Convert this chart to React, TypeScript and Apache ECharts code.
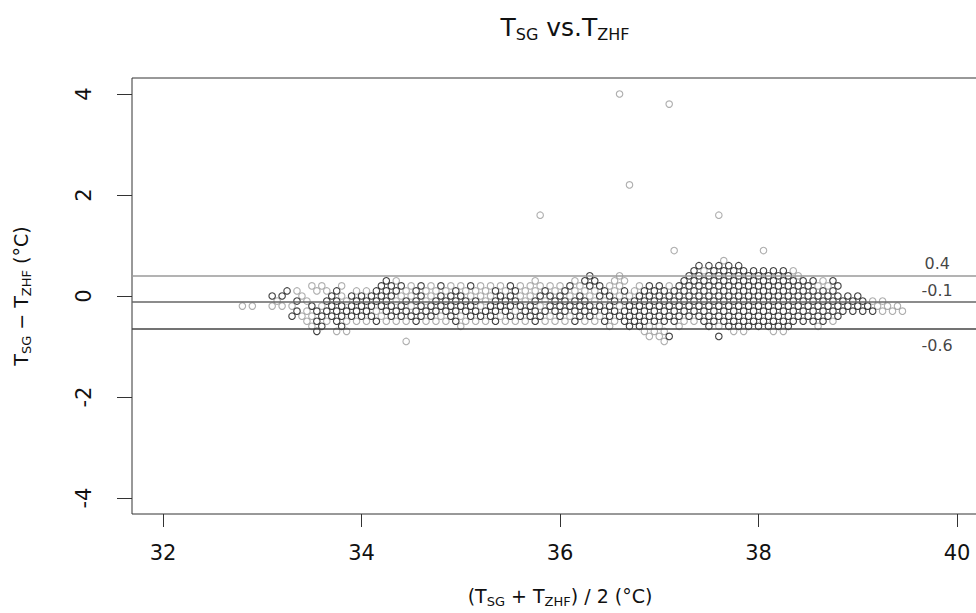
import React, { useEffect, useRef } from "react";
import * as echarts from "echarts";

// ---- data ----
const xTicks = [32, 34, 36, 38, 40];
const yTicks = [-4, -2, 0, 2, 4];

// limits of agreement: upper, mean, lower
const limitValues = [0.403, -0.121, -0.645];
const limitLabels = ["0.4", "-0.1", "-0.6"];
const limitLabelX = 39.8;

// points far from the band (all grey)
const outlierPoints: number[][] = [
  [36.6, 4.0], [37.1, 3.8], [36.7, 2.2], [37.6, 1.6], [35.8, 1.6], [37.15, 0.9], [38.05, 0.9],
];

// The cloud lies on a lattice: a difference (tenths) per row; cells run at 0.1 steps from
// 32.8 (even rows) or 32.85 (odd rows). 'k' = black circle, 'g' = grey circle, '.' = none.
const rowDiffs = [7, 6, 5, 4, 3, 2, 1, 0, -1, -2, -3, -4, -5, -6, -7, -8, -9];
const rowCells = [
  ".. .......... .......... .......... .......... ......g...",
  ".. .......... .......... .......... .......... ....kkkkk.",
  ".. .......... .......... .......... .......... ...kgkkkkk kkkg......",
  ".. .......... .......... .......... ...k..g... ...kkkkkkk kkkkg.....",
  ".. .......... ..kg...... .......g.. .gkk.gg... ..kkkkkkkk kkkkkkgk..",
  ".. .....gg.g. ..kkkgkgkg gkgggkgggg gkgkkgg.gk kgkkkkkkkk kkkkkkggk.",
  ".. ..kg.ggk.g gkkkgkgggk gggkgkggkg kgggkgkgkk kkkkkkkkkk kkkkkkkk..",
  ".. .kk.g..kgk kkkkggkgkk kgggkkggkk kgkgkkggkk kkkkkkkkkk kkkkkkkkkk k.....",
  ".. .g.kg.kkgk kkkgkkgkkk kkgkkkgkgk kkkggkkkkk kkkkkkkkkk kkkkkkkkkk kgg..",
  "gg .ggg.kgkkk kkkkkgkkkk kkgkkkkkgk kkkkkkgkkk kkkkkkkkkk kkkkkkkkkk kkggg.",
  ".. ...kgkkkkk kgkkkkkkkk kkkkkgkkkk kkkkkkkkkk kkkkkkkkkk kkkkkkkkkk kkggg",
  ".. ...kggkkkk kkgkkkkkgk gkkkgkkkkg kgkkgkkkkk kkkkkkkkkk kkkkkkkkk.",
  ".. ....gkgkgg gkgggkgggk gggkgggkgg gkggkgkkkk kkggkkkkkk kkkkkkkg..",
  ".. .....gk.k. .......... g......... .....g.kkg g.g..kgkkk kkkk..g...",
  ".. .....k.gg. .......... .......... ........gg g......gg. .gg.......",
  ".. .......... .......... .......... .........g gk....k...",
  ".. .......... ....g..... .......... .......... g.........",
];

function buildPoints() {
  const grey: number[][] = [...outlierPoints];
  const black: number[][] = [];
  rowDiffs.forEach((d, r) => {
    const cells = rowCells[r].replace(/ /g, "");
    const x0 = Math.abs(d) % 2 === 0 ? 32.8 : 32.85;
    for (let i = 0; i < cells.length; i++) {
      const c = cells[i];
      if (c === ".") continue;
      const p = [Number((x0 + i * 0.1).toFixed(2)), d / 10];
      if (c === "k") black.push(p);
      else grey.push(p);
    }
  });
  return { grey, black };
}

const FONT = "DejaVu Sans";
const TEXT = "#111";

export default function App() {
  const ref = useRef<HTMLDivElement>(null);
  useEffect(() => {
    const chart = echarts.init(ref.current!, null, { renderer: "svg" });
    const { grey, black } = buildPoints();
    const sub = (fs: number, pad: number) => ({
      fontSize: fs, fontFamily: FONT, fontWeight: "normal", color: TEXT, verticalAlign: "top", padding: [pad, 0, 0, 0],
    });
    const main = (fs: number) => ({ fontSize: fs, fontFamily: FONT, fontWeight: "normal", color: TEXT, verticalAlign: "top" });
    const option: any = {
      animation: false,
      backgroundColor: "#fff",
      title: {
        text: "{t|T}{s|SG}{t| vs.T}{s|ZHF}",
        left: 560,
        top: 10,
        textAlign: "center",
        textStyle: { fontWeight: "normal", rich: { t: main(25), s: sub(16, 11) } },
      },
      grid: {
        left: 132, top: 78, width: 856, height: 436,
        show: true, borderColor: "#333", borderWidth: 1, backgroundColor: "transparent",
        outerBoundsMode: "none", containLabel: false,
      },
      xAxis: {
        type: "value",
        min: 31.6877,
        max: 40.312,
        axisLine: { show: false, onZero: false },
        splitLine: { show: false },
        axisTick: { show: true, length: 13, customValues: xTicks, lineStyle: { color: "#333", width: 1 } },
        axisLabel: { customValues: xTicks, fontSize: 21, fontFamily: FONT, color: TEXT, margin: 28 },
        name: "{t|(T}{s|SG}{t| + T}{s|ZHF}{t|) / 2 (°C)}",
        nameLocation: "middle",
        nameGap: 72,
        nameTextStyle: { rich: { t: main(19), s: sub(13, 9) } },
      },
      yAxis: {
        type: "value",
        min: -4.317,
        max: 4.317,
        axisLine: { show: false, onZero: false },
        splitLine: { show: false },
        axisTick: { show: true, length: 15, customValues: yTicks, lineStyle: { color: "#333", width: 1 } },
        axisLabel: { customValues: yTicks, rotate: 90, fontSize: 21, fontFamily: FONT, color: TEXT, margin: 38 },
        name: "{t|T}{s|SG}{t| − T}{s|ZHF}{t| (°C)}",
        nameLocation: "middle",
        nameRotate: 90,
        nameGap: 99,
        nameTextStyle: { rich: { t: main(19), s: sub(13, 9) } },
      },
      series: [
        {
          type: "scatter",
          data: grey,
          symbol: "circle",
          symbolSize: 6.5,
          itemStyle: { color: "rgba(0,0,0,0)", borderColor: "#9a9a9a", borderWidth: 1.1 },
          z: 2,
          markLine: {
            silent: true,
            symbol: "none",
            label: { show: false },
            data: limitValues.map((v, i) => ({
              yAxis: v,
              lineStyle: { color: ["#9a9a9a", "#666", "#444"][i], width: 1.5, type: "solid" },
            })),
          },
        },
        {
          type: "scatter",
          data: black,
          symbol: "circle",
          symbolSize: 6.5,
          itemStyle: { color: "rgba(0,0,0,0)", borderColor: "#111", borderWidth: 1.1 },
          z: 3,
        },
        {
          type: "scatter",
          symbolSize: 0,
          silent: true,
          z: 4,
          data: limitValues.map((v, i) => ({
            value: [limitLabelX, v],
            label: {
              show: true,
              formatter: limitLabels[i],
              position: i === 2 ? "bottom" : "top",
              distance: i === 2 ? 9 : 4,
              fontSize: 16,
              fontFamily: FONT,
              color: TEXT,
            },
          })),
        },
      ],
    };
    chart.setOption(option);
    return () => chart.dispose();
  }, []);
  return <div ref={ref} style={{ position: "fixed", left: 0, top: 0, width: 976, height: 613 }} />;
}
